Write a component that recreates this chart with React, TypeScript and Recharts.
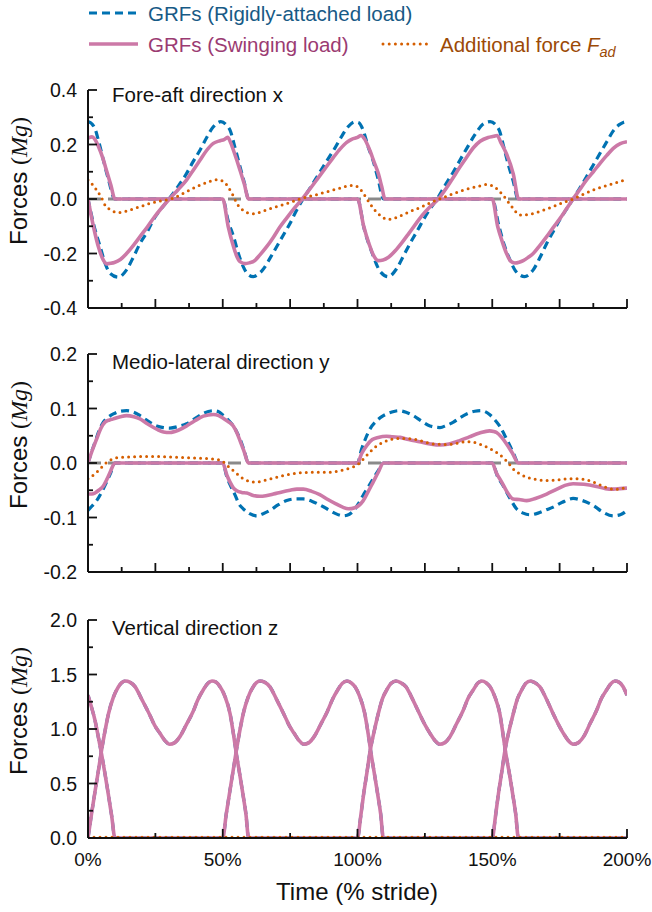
import React from 'react';
import { LineChart, Line, XAxis, YAxis } from 'recharts';

type P = [number, number][];

// ---------- Panel 1: fore-aft direction x ----------
const xRigidL1: P = [[0,0],[2,-0.09],[4.5,-0.175],[6.5,-0.24],[8.2,-0.273],[11.3,-0.287],[14.3,-0.26],[17,-0.21],[19.3,-0.163],[22,-0.12],[24.2,-0.077],[27,-0.038],[30,0],[33.5,0.047],[36.6,0.094],[39,0.137],[41.6,0.18],[44,0.225],[46.5,0.265],[49.3,0.284],[51.5,0.27],[52.7,0.253],[54.5,0.19],[56.4,0.119],[58,0.06],[59.6,0],[100,0],[102.5,-0.11],[105.5,-0.2],[108.5,-0.267],[111.4,-0.285],[114.5,-0.256],[117,-0.21],[119.5,-0.163],[122,-0.12],[124.4,-0.077],[126.8,-0.038],[129.5,0],[132.5,0.05],[135.6,0.1],[138,0.142],[140.5,0.185],[143.5,0.235],[146.5,0.274],[149.2,0.284],[151.5,0.27],[152.7,0.25],[154.3,0.19],[156,0.125],[157.8,0.065],[159.6,0],[200,0]];
const xSwingL1: P = [[0,0],[2,-0.1],[4,-0.18],[5.7,-0.224],[6.9,-0.238],[8.5,-0.236],[9.8,-0.233],[12,-0.222],[14.3,-0.2],[17,-0.168],[19.3,-0.138],[22,-0.103],[24.5,-0.068],[27.3,-0.033],[30.2,0],[33.5,0.035],[36.6,0.07],[39,0.105],[41.6,0.143],[44,0.178],[46.5,0.204],[49,0.214],[50.5,0.218],[51.8,0.226],[53,0.205],[54,0.178],[55.2,0.143],[56.4,0.106],[58,0.055],[59.6,0],[100,0],[102.3,-0.1],[104.3,-0.165],[106,-0.208],[107.7,-0.226],[109.5,-0.224],[111.5,-0.214],[114,-0.19],[116.5,-0.16],[119,-0.127],[121.5,-0.093],[124,-0.06],[127,-0.028],[130,0],[133,0.04],[135.6,0.08],[138,0.117],[140.5,0.153],[143,0.188],[145.5,0.212],[148.5,0.226],[150.5,0.23],[151.8,0.233],[153.3,0.205],[155.3,0.165],[157.8,0.092],[159.8,0],[200,0]];
const xRigidL2: P = [[0,0.284],[1.5,0.275],[2.6,0.258],[4,0.21],[5.7,0.143],[7.5,0.075],[10,0],[50,0],[52,-0.08],[54,-0.138],[55.8,-0.2],[57.6,-0.248],[59.5,-0.278],[61.3,-0.285],[63,-0.277],[65,-0.258],[67.5,-0.218],[70,-0.175],[72.5,-0.132],[75,-0.089],[77.2,-0.045],[79.8,0],[82.5,0.042],[85.5,0.09],[88.5,0.138],[91.5,0.185],[94,0.228],[96.5,0.265],[99,0.283],[100.5,0.28],[102,0.255],[104,0.19],[105.8,0.14],[107.6,0.075],[109.7,0],[150,0],[152.5,-0.1],[154.5,-0.17],[156.6,-0.224],[158.5,-0.262],[160.3,-0.279],[162,-0.285],[165.2,-0.26],[167.7,-0.215],[170.2,-0.163],[172.6,-0.12],[175,-0.077],[177.5,-0.038],[180,0],[182.5,0.04],[185,0.082],[187.5,0.125],[190,0.168],[192.5,0.21],[194.9,0.25],[197,0.272],[198.6,0.281],[200,0.284]];
const xSwingL2: P = [[0,0.223],[1.5,0.228],[2.5,0.22],[4,0.19],[5.5,0.15],[7,0.1],[8.5,0.05],[10,0],[50,0],[52,-0.1],[54,-0.175],[55.2,-0.21],[56.4,-0.23],[58.3,-0.237],[60,-0.234],[61.3,-0.23],[63.8,-0.205],[66.3,-0.175],[68.8,-0.14],[71.2,-0.103],[73.7,-0.07],[76.2,-0.038],[79.5,0],[82.2,0.035],[85,0.072],[88,0.112],[91,0.152],[93.5,0.183],[96,0.208],[98,0.22],[100,0.226],[101.3,0.233],[102.5,0.222],[104.6,0.178],[106,0.14],[107.7,0.094],[109,0.045],[110.2,0],[150,0],[152,-0.1],[153.5,-0.15],[155.3,-0.2],[156.8,-0.228],[158.4,-0.235],[160,-0.232],[161.5,-0.226],[163.5,-0.213],[165.2,-0.2],[167.7,-0.17],[170.2,-0.138],[172.6,-0.105],[175.1,-0.072],[177.5,-0.037],[180,0],[182.5,0.035],[185,0.07],[187.5,0.1],[190,0.131],[192.5,0.16],[194.9,0.186],[197.5,0.203],[200,0.21]];
const xAdditional: P = [[0,0.07],[1.5,0.055],[3.2,0.033],[5,0.005],[6.3,-0.022],[8,-0.038],[9.4,-0.046],[11.3,-0.05],[14,-0.045],[16.8,-0.036],[20,-0.026],[23,-0.016],[26,-0.009],[29.2,-0.003],[31.7,0.003],[34,0.014],[36.6,0.027],[39,0.039],[41.6,0.051],[44.5,0.062],[47.7,0.071],[49.5,0.068],[51,0.058],[52.5,0.036],[54,0.01],[55.2,-0.016],[57,-0.037],[58.9,-0.05],[61.3,-0.054],[64,-0.048],[66.3,-0.04],[69,-0.031],[72.5,-0.021],[75.5,-0.011],[78.7,0],[81.5,0.008],[84.8,0.016],[88,0.025],[91,0.033],[94,0.041],[97.2,0.05],[99.5,0.047],[101,0.036],[102.2,0.02],[103.5,0],[104.6,-0.016],[106,-0.036],[107.7,-0.054],[109.5,-0.068],[111.4,-0.075],[114.5,-0.068],[117,-0.057],[119.5,-0.046],[122,-0.036],[124.4,-0.026],[127,-0.014],[129.4,-0.004],[132,0.006],[135.6,0.02],[138.5,0.03],[141.7,0.039],[145,0.047],[147.9,0.053],[150.2,0.048],[152,0.035],[154,0.014],[156,-0.012],[157.8,-0.035],[159,-0.05],[160.5,-0.059],[162.5,-0.058],[165.2,-0.053],[168,-0.044],[172.6,-0.028],[176,-0.014],[180,0],[184,0.018],[187.5,0.033],[191,0.045],[194.9,0.057],[197.5,0.065],[200,0.072]];

// ---------- Panel 2: medio-lateral direction y ----------
const yRigidL1: P = [[0,0],[1.3,0.02],[2.6,0.038],[4,0.058],[5.7,0.075],[7.5,0.084],[9.4,0.09],[12,0.095],[14.3,0.096],[17,0.093],[19.3,0.087],[22,0.078],[25.5,0.068],[28,0.065],[30.4,0.064],[33.5,0.067],[36.6,0.072],[39.5,0.081],[42.8,0.091],[46.5,0.096],[48.5,0.094],[50.2,0.087],[52,0.079],[53.9,0.068],[55.2,0.057],[56.4,0.044],[58,0.022],[59.5,0],[100,0],[101.5,0.025],[103,0.045],[104.6,0.062],[107,0.077],[109.6,0.087],[112.5,0.093],[115.2,0.096],[118,0.093],[120.7,0.087],[124,0.076],[126.9,0.068],[130.6,0.065],[133,0.069],[135.6,0.075],[138,0.083],[140.5,0.09],[143.5,0.095],[146,0.096],[149,0.089],[150.8,0.08],[152.7,0.068],[154.5,0.052],[156.5,0.032],[158,0.016],[159.7,0],[200,0]];
const ySwingL1: P = [[0,0],[1.5,0.022],[3.2,0.044],[4.8,0.064],[6.3,0.075],[8,0.079],[9.4,0.081],[12,0.085],[14.3,0.087],[17,0.085],[19.3,0.081],[22,0.072],[25.5,0.062],[28,0.057],[30.4,0.056],[33.5,0.06],[36.6,0.068],[39.5,0.077],[42.8,0.086],[46.5,0.089],[48.5,0.087],[50.2,0.082],[52,0.076],[53.9,0.068],[55.2,0.056],[56.4,0.041],[58,0.02],[59.5,0],[100,0],[101.5,0.017],[103.4,0.032],[105.5,0.043],[107.7,0.047],[110.8,0.049],[113,0.048],[115.8,0.047],[119,0.043],[123,0.039],[127,0.035],[130.6,0.033],[134,0.035],[137.9,0.041],[141.5,0.048],[145.3,0.055],[149,0.059],[150.5,0.058],[151.6,0.056],[153.5,0.047],[155.3,0.035],[157.5,0.018],[159.7,0],[200,0]];
const yRigidL2: P = [[0,-0.087],[1.5,-0.079],[3.2,-0.069],[5,-0.054],[6.9,-0.035],[8.5,-0.017],[10,0],[50,0],[51.5,-0.025],[53,-0.043],[54.5,-0.058],[56,-0.075],[57.6,-0.084],[60,-0.093],[62.6,-0.097],[65,-0.093],[67.5,-0.087],[70.5,-0.077],[73.7,-0.069],[76.5,-0.066],[79.9,-0.066],[83,-0.07],[86,-0.077],[89,-0.085],[91.5,-0.092],[94.7,-0.097],[97,-0.094],[98.5,-0.088],[100.3,-0.075],[102,-0.06],[104,-0.044],[105.8,-0.029],[107.7,-0.014],[109.6,0],[150,0],[152,-0.025],[154.1,-0.042],[156.5,-0.064],[159,-0.084],[161.5,-0.092],[163.9,-0.095],[167,-0.092],[170,-0.086],[172.6,-0.081],[176,-0.072],[180,-0.065],[183.5,-0.069],[187.5,-0.078],[191,-0.09],[194.9,-0.097],[197.5,-0.095],[200,-0.087]];
const ySwingL2: P = [[0,-0.057],[1.5,-0.057],[2.6,-0.055],[4,-0.05],[5.7,-0.042],[7,-0.03],[8.2,-0.017],[10,0],[50,0],[51.5,-0.022],[52.7,-0.035],[54,-0.046],[55.2,-0.051],[57,-0.054],[58.9,-0.055],[61,-0.059],[63.8,-0.061],[66,-0.06],[68.8,-0.057],[72,-0.053],[75,-0.05],[77.5,-0.048],[79.9,-0.048],[83,-0.052],[86,-0.058],[89,-0.067],[92,-0.075],[94.5,-0.081],[96.6,-0.084],[99,-0.082],[100.5,-0.078],[102,-0.07],[104,-0.052],[105.8,-0.035],[107.7,-0.017],[109.6,0],[150,0],[151.5,-0.018],[153.5,-0.035],[155.5,-0.053],[157.8,-0.066],[160,-0.067],[162.8,-0.069],[166,-0.065],[170.2,-0.057],[174,-0.048],[177,-0.041],[180,-0.038],[184,-0.039],[188.7,-0.043],[192,-0.047],[194.9,-0.048],[197.5,-0.047],[200,-0.046]];
const yAdditional: P = [[0,-0.029],[1.5,-0.024],[3.2,-0.017],[5,-0.008],[6.9,0.001],[8.5,0.006],[10,0.009],[14.3,0.011],[23,0.012],[35.4,0.01],[46.5,0.007],[49,0.005],[50.2,0.002],[52,-0.006],[53.9,-0.014],[55.8,-0.022],[57.6,-0.029],[59.5,-0.033],[61.3,-0.035],[63.8,-0.034],[66.3,-0.031],[69.5,-0.027],[72.5,-0.023],[75.5,-0.02],[78.7,-0.018],[83,-0.017],[89.8,-0.017],[93.5,-0.014],[96,-0.011],[98.5,-0.007],[100,-0.003],[101,0.001],[102.5,0.009],[104.6,0.02],[106.5,0.029],[108.3,0.035],[111,0.041],[114.5,0.045],[117.5,0.045],[120.7,0.044],[124,0.04],[128,0.035],[132,0.034],[135.6,0.035],[138.5,0.038],[141.7,0.039],[144,0.037],[146.7,0.032],[148.5,0.028],[150.4,0.023],[152,0.018],[154,0.01],[156,0],[157.8,-0.011],[160,-0.019],[162.8,-0.026],[166,-0.03],[170.2,-0.032],[174,-0.031],[178.8,-0.029],[182,-0.029],[185,-0.031],[188.5,-0.037],[192.4,-0.045],[195,-0.048],[197.4,-0.048],[200,-0.042]];

// ---------- Panel 3: vertical direction z ----------
const zSwingL1: P = [[0,0],[1.3,0.22],[2.7,0.44],[4,0.64],[5,0.8],[6.3,0.98],[7.6,1.14],[9.4,1.29],[11.3,1.387],[12.5,1.425],[13.9,1.44],[15.5,1.43],[17.5,1.387],[20,1.27],[22.7,1.14],[24.8,1.03],[26.7,0.96],[28.5,0.895],[30.3,0.86],[32.2,0.875],[34.1,0.93],[36.5,1.04],[39,1.16],[40.8,1.27],[42.8,1.36],[44.5,1.42],[46,1.44],[47.5,1.43],[49,1.387],[50.8,1.3],[52.7,1.142],[54,0.95],[55,0.78],[56.4,0.57],[57.5,0.4],[58.6,0.22],[59.6,0],[100,0],[101.2,0.2],[102.3,0.407],[103.5,0.6],[104.7,0.8],[106.2,0.98],[107.7,1.14],[109.3,1.28],[110.8,1.357],[112.5,1.42],[114.2,1.44],[116,1.425],[118,1.387],[120.5,1.27],[123,1.14],[125,1.04],[126.9,0.96],[128.7,0.895],[130.5,0.86],[132.4,0.875],[134.3,0.93],[136.8,1.05],[139.2,1.17],[141,1.28],[143,1.36],[144.6,1.42],[146.1,1.44],[147.7,1.425],[149.2,1.387],[150.9,1.3],[152.8,1.142],[154,0.95],[155,0.78],[156.5,0.57],[157.6,0.4],[158.7,0.22],[159.7,0],[200,0]];
const zSwingL2: P = [[0,1.31],[1.3,1.2],[2.6,1.08],[3.8,0.93],[5,0.775],[6.3,0.59],[7.5,0.407],[8.8,0.2],[10,0],[50,0],[51.3,0.22],[52.7,0.44],[54,0.64],[54.9,0.78],[56.3,0.98],[57.6,1.14],[59.4,1.29],[61.3,1.387],[62.5,1.425],[63.9,1.44],[65.5,1.43],[67.5,1.387],[70,1.27],[72.6,1.14],[74.7,1.03],[76.5,0.96],[78.3,0.895],[80.1,0.86],[82,0.875],[83.9,0.93],[86.3,1.04],[88.8,1.16],[90.7,1.27],[92.7,1.36],[94.4,1.42],[96.1,1.44],[97.6,1.425],[99.1,1.387],[100.8,1.3],[102.7,1.142],[104,0.95],[105,0.78],[106.4,0.57],[107.5,0.4],[108.6,0.22],[109.6,0],[150,0],[151.2,0.2],[152.3,0.407],[153.5,0.6],[154.7,0.8],[156.2,0.98],[157.8,1.14],[159.4,1.28],[160.9,1.357],[162.5,1.42],[164.1,1.44],[165.8,1.425],[167.7,1.387],[170,1.28],[172.6,1.14],[174.6,1.04],[176.4,0.96],[178.2,0.895],[180.1,0.86],[182,0.875],[183.9,0.93],[186.3,1.05],[188.7,1.17],[190.5,1.28],[192.4,1.357],[194,1.415],[195.6,1.44],[197,1.43],[198.5,1.39],[200,1.31]];
const zRigidL1: P = [[0,0],[1.3,0.22],[2.7,0.44],[4,0.64],[5,0.8],[6.3,0.98],[7.6,1.14],[9.4,1.29],[11.3,1.387],[12.5,1.425],[13.9,1.44],[15.5,1.43],[17.5,1.387],[20,1.27],[22.7,1.14],[24.8,1.03],[26.7,0.96],[28.5,0.895],[30.3,0.86],[32.2,0.875],[34.1,0.93],[36.5,1.04],[39,1.16],[40.8,1.27],[42.8,1.36],[44.5,1.42],[46,1.44],[47.5,1.43],[49,1.387],[50.8,1.3],[52.7,1.142],[54,0.95],[55,0.78],[56.4,0.57],[57.5,0.4],[58.6,0.22],[59.6,0],[100,0],[101.2,0.2],[102.3,0.407],[103.5,0.6],[104.7,0.8],[106.2,0.98],[107.7,1.14],[109.3,1.28],[110.8,1.357],[112.5,1.42],[114.2,1.44],[116,1.425],[118,1.387],[120.5,1.27],[123,1.14],[125,1.04],[126.9,0.96],[128.7,0.895],[130.5,0.86],[132.4,0.875],[134.3,0.93],[136.8,1.05],[139.2,1.17],[141,1.28],[143,1.36],[144.6,1.42],[146.1,1.44],[147.7,1.425],[149.2,1.387],[150.9,1.3],[152.8,1.142],[154,0.95],[155,0.78],[156.5,0.57],[157.6,0.4],[158.7,0.22],[159.7,0],[200,0]];
const zRigidL2: P = [[0,1.31],[1.3,1.2],[2.6,1.08],[3.8,0.93],[5,0.775],[6.3,0.59],[7.5,0.407],[8.8,0.2],[10,0],[50,0],[51.3,0.22],[52.7,0.44],[54,0.64],[54.9,0.78],[56.3,0.98],[57.6,1.14],[59.4,1.29],[61.3,1.387],[62.5,1.425],[63.9,1.44],[65.5,1.43],[67.5,1.387],[70,1.27],[72.6,1.14],[74.7,1.03],[76.5,0.96],[78.3,0.895],[80.1,0.86],[82,0.875],[83.9,0.93],[86.3,1.04],[88.8,1.16],[90.7,1.27],[92.7,1.36],[94.4,1.42],[96.1,1.44],[97.6,1.425],[99.1,1.387],[100.8,1.3],[102.7,1.142],[104,0.95],[105,0.78],[106.4,0.57],[107.5,0.4],[108.6,0.22],[109.6,0],[150,0],[151.2,0.2],[152.3,0.407],[153.5,0.6],[154.7,0.8],[156.2,0.98],[157.8,1.14],[159.4,1.28],[160.9,1.357],[162.5,1.42],[164.1,1.44],[165.8,1.425],[167.7,1.387],[170,1.28],[172.6,1.14],[174.6,1.04],[176.4,0.96],[178.2,0.895],[180.1,0.86],[182,0.875],[183.9,0.93],[186.3,1.05],[188.7,1.17],[190.5,1.28],[192.4,1.357],[194,1.415],[195.6,1.44],[197,1.43],[198.5,1.39],[200,1.31]];
const zAdditional: P = [[0,0.008],[50,0.008],[100,0.008],[150,0.008],[200,0.008]];

// reference (rigid-load additional force = 0)
const zeroLine: P = [[0,0],[200,0]];

// ---------- ticks ----------
const xTicksFine = [0, 12.5, 25, 37.5, 50, 62.5, 75, 87.5, 100, 112.5, 125, 137.5, 150, 162.5, 175, 187.5, 200];
const xTicksCoarse = [0, 25, 50, 75, 100, 125, 150, 175, 200];
const xTicksLabeled = [0, 50, 100, 150, 200];
const xTickText = ['0%', '50%', '100%', '150%', '200%'];
const yTicksX = [-0.4, -0.3, -0.2, -0.1, 0, 0.1, 0.2, 0.3, 0.4];
const yLabelsX = [-0.4, -0.2, 0, 0.2, 0.4];
const yTextX = ['-0.4', '-0.2', '0.0', '0.2', '0.4'];
const yTicksY = [-0.2, -0.15, -0.1, -0.05, 0, 0.05, 0.1, 0.15, 0.2];
const yLabelsY = [-0.2, -0.1, 0, 0.1, 0.2];
const yTextY = ['-0.2', '-0.1', '0.0', '0.1', '0.2'];
const yTicksZ = [0, 0.25, 0.5, 0.75, 1, 1.25, 1.5, 1.75, 2];
const yLabelsZ = [0, 0.5, 1, 1.5, 2];
const yTextZ = ['0.0', '0.5', '1.0', '1.5', '2.0'];

const FONT = '"Liberation Sans", Arial, Helvetica, sans-serif';
const SERIF = '"Liberation Serif", "DejaVu Serif", "Times New Roman", serif';
const BLUE = '#0072B2';
const PINK = '#CC79A7';
const ORANGE = '#D55E00';
const GRAY = '#8a8a8a';
const INK = '#111111';

const rows = (pts: P) => pts.map(([t, v]) => ({ t, v }));
const findIdx = (v: number, list: number[]) => list.findIndex((l) => Math.abs(l - Number(v)) < 1e-9);

const makeXTick = (majors: number[], labels: number[] | null, texts: string[] | null) => (props: any) => {
  const { x, y, payload } = props;
  const v = Number(payload.value);
  const major = findIdx(v, majors) >= 0;
  const li = labels ? findIdx(v, labels) : -1;
  const len = major ? 9 : 5;
  return (
    <g>
      <line x1={x} x2={x} y1={y} y2={y - len} stroke={INK} strokeWidth={1.8} />
      {texts && li >= 0 ? (
        <text x={x} y={y + 28} textAnchor="middle" fontSize={19} fontFamily={FONT} fill={INK}>
          {texts[li]}
        </text>
      ) : null}
    </g>
  );
};

const makeYTick = (labels: number[], texts: string[]) => (props: any) => {
  const { x, y, payload } = props;
  const v = Number(payload.value);
  const li = findIdx(v, labels);
  const len = li >= 0 ? 9 : 5;
  return (
    <g>
      <line x1={x} x2={x + len} y1={y} y2={y} stroke={INK} strokeWidth={1.8} />
      {li >= 0 ? (
        <text x={x - 11} y={y + 7} textAnchor="end" fontSize={19.5} fontFamily={FONT} fill={INK}>
          {texts[li]}
        </text>
      ) : null}
    </g>
  );
};

interface PanelProps {
  top: number;
  height: number;
  xAxisHeight: number;
  yDomain: [number, number];
  yTicks: number[];
  yLabels: number[];
  yTexts: string[];
  xTicks: number[];
  xMajors: number[];
  xLabels: number[] | null;
  xTexts: string[] | null;
  rigidL1: P;
  rigidL2: P;
  swingL1: P;
  swingL2: P;
  additional: P;
  refColor: string;
  refWidth: number;
  refDash: string;
}

function Panel(p: PanelProps) {
  return (
    <div style={{ position: 'absolute', left: 0, top: p.top, width: 652, height: p.height }}>
      <LineChart width={652} height={p.height} margin={{ top: 10, right: 25, bottom: 0, left: 0 }}>
        <XAxis
          type="number"
          dataKey="t"
          domain={[0, 200]}
          ticks={p.xTicks}
          interval={0}
          allowDataOverflow
          height={p.xAxisHeight}
          tickSize={0}
          tickMargin={0}
          tickLine={false}
          axisLine={{ stroke: INK, strokeWidth: 2 }}
          tick={makeXTick(p.xMajors, p.xLabels, p.xTexts)}
        />
        <YAxis
          type="number"
          dataKey="v"
          domain={p.yDomain}
          ticks={p.yTicks}
          interval={0}
          allowDataOverflow
          width={88}
          tickSize={0}
          tickMargin={0}
          tickLine={false}
          axisLine={{ stroke: INK, strokeWidth: 2 }}
          tick={makeYTick(p.yLabels, p.yTexts)}
        />
        <Line data={rows(zeroLine)} dataKey="v" type="linear" stroke={p.refColor} strokeWidth={p.refWidth} strokeDasharray={p.refDash} dot={false} activeDot={false} isAnimationActive={false} />
        <Line data={rows(p.rigidL1)} dataKey="v" type="monotone" stroke={BLUE} strokeWidth={3.2} strokeDasharray="8 5" dot={false} activeDot={false} isAnimationActive={false} />
        <Line data={rows(p.rigidL2)} dataKey="v" type="monotone" stroke={BLUE} strokeWidth={3.2} strokeDasharray="8 5" dot={false} activeDot={false} isAnimationActive={false} />
        <Line data={rows(p.swingL1)} dataKey="v" type="monotone" stroke={PINK} strokeWidth={3.6} dot={false} activeDot={false} isAnimationActive={false} />
        <Line data={rows(p.swingL2)} dataKey="v" type="monotone" stroke={PINK} strokeWidth={3.6} dot={false} activeDot={false} isAnimationActive={false} />
        <Line data={rows(p.additional)} dataKey="v" type="monotone" stroke={ORANGE} strokeWidth={3} strokeDasharray="0 6" strokeLinecap="round" dot={false} activeDot={false} isAnimationActive={false} />
      </LineChart>
    </div>
  );
}

const YLabel = ({ cy }: { cy: number }) => (
  <text x={27} y={cy} transform={`rotate(-90, 27, ${cy})`} textAnchor="middle" fontSize={24} fontFamily={FONT} fill={INK}>
    Forces{' '}
    <tspan fontFamily={SERIF}>(</tspan>
    <tspan fontFamily={SERIF} fontStyle="italic">Mg</tspan>
    <tspan fontFamily={SERIF}>)</tspan>
  </text>
);

export default function App() {
  return (
    <div style={{ position: 'absolute', left: 0, top: 0, width: 652, height: 912, background: '#ffffff', overflow: 'hidden' }}>
      <Panel
        top={80} height={240} xAxisHeight={12}
        yDomain={[-0.4, 0.4]} yTicks={yTicksX} yLabels={yLabelsX} yTexts={yTextX}
        xTicks={xTicksFine} xMajors={xTicksCoarse} xLabels={null} xTexts={null}
        rigidL1={xRigidL1} rigidL2={xRigidL2} swingL1={xSwingL1} swingL2={xSwingL2} additional={xAdditional}
        refColor={GRAY} refWidth={3} refDash="13 7"
      />
      <Panel
        top={344} height={240} xAxisHeight={12}
        yDomain={[-0.2, 0.2]} yTicks={yTicksY} yLabels={yLabelsY} yTexts={yTextY}
        xTicks={xTicksFine} xMajors={xTicksCoarse} xLabels={null} xTexts={null}
        rigidL1={yRigidL1} rigidL2={yRigidL2} swingL1={ySwingL1} swingL2={ySwingL2} additional={yAdditional}
        refColor={GRAY} refWidth={3} refDash="13 7"
      />
      <Panel
        top={610} height={302} xAxisHeight={74}
        yDomain={[0, 2]} yTicks={yTicksZ} yLabels={yLabelsZ} yTexts={yTextZ}
        xTicks={xTicksCoarse} xMajors={xTicksLabeled} xLabels={xTicksLabeled} xTexts={xTickText}
        rigidL1={zRigidL1} rigidL2={zRigidL2} swingL1={zSwingL1} swingL2={zSwingL2} additional={zAdditional}
        refColor="#222222" refWidth={1.5} refDash="5 4"
      />
      <svg width={652} height={912} style={{ position: 'absolute', left: 0, top: 0, pointerEvents: 'none' }}>
        {/* legend */}
        <line x1={89} x2={138} y1={13} y2={13} stroke={BLUE} strokeWidth={3.2} strokeDasharray="8 5" />
        <text x={148} y={20.5} fontSize={20.5} fontFamily={FONT} fill="#175a86">GRFs (Rigidly-attached load)</text>
        <line x1={89} x2={138} y1={44} y2={44} stroke={PINK} strokeWidth={3.6} />
        <text x={148} y={51.5} fontSize={20.5} fontFamily={FONT} fill="#9b3b72">GRFs (Swinging load)</text>
        <line x1={383} x2={427} y1={44} y2={44} stroke={ORANGE} strokeWidth={3} strokeDasharray="0 6.2" strokeLinecap="round" />
        <text x={440} y={51.5} fontSize={20.5} fontFamily={FONT} fill="#9c4a06">
          Additional force <tspan fontStyle="italic">F</tspan>
          <tspan fontStyle="italic" fontSize={14.5} dy={5}>ad</tspan>
        </text>
        {/* panel titles */}
        <text x={112} y={102} fontSize={20.5} fontFamily={FONT} fill={INK}>Fore-aft direction x</text>
        <text x={112} y={369} fontSize={20.5} fontFamily={FONT} fill={INK}>Medio-lateral direction y</text>
        <text x={112} y={635} fontSize={20.5} fontFamily={FONT} fill={INK}>Vertical direction z</text>
        {/* y labels */}
        <YLabel cy={181} />
        <YLabel cy={445} />
        <YLabel cy={711} />
        {/* x label */}
        <text x={357} y={900} textAnchor="middle" fontSize={24} fontFamily={FONT} fill={INK}>Time (% stride)</text>
      </svg>
    </div>
  );
}
